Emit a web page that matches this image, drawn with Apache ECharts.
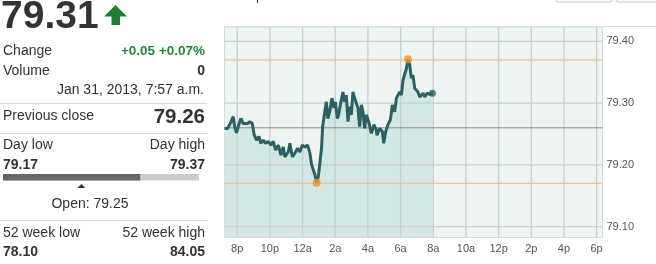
<!DOCTYPE html>
<html><head><meta charset="utf-8">
<script src="https://cdn.jsdelivr.net/npm/echarts@6/dist/echarts.min.js"></script>
<style>html,body{margin:0;padding:0;background:#fff}#c{width:656px;height:264px}</style>
</head><body><div id="c"></div>
<script>
// ---- data ----
// time in hours after 8 p.m. (Jan 30), price
const hoursFrom8pm = [-0.78,-0.594,-0.41,-0.245,-0.147,-0.043,0.061,0.221,0.368,0.466,0.631,0.772,0.919,1.042,1.183,1.324,1.446,1.593,1.734,1.900,2.059,2.206,2.347,2.512,2.672,2.819,2.917,3.125,3.223,3.370,3.529,3.695,3.836,3.983,4.142,4.308,4.449,4.553,4.657,4.755,4.859,4.963,5.061,5.165,5.227,5.306,5.453,5.551,5.656,5.797,5.919,6.005,6.127,6.207,6.330,6.471,6.575,6.679,6.777,6.881,6.985,7.083,7.188,7.292,7.390,7.494,7.598,7.696,7.800,7.904,8.045,8.211,8.370,8.517,8.554,8.719,8.885,8.965,9.087,9.228,9.375,9.498,9.638,9.743,9.945,10.049,10.147,10.251,10.355,10.453,10.558,10.662,10.760,10.864,11.066,11.170,11.275,11.373,11.477,11.618,11.783,11.949];
const prices = [79.259,79.259,79.268,79.278,79.260,79.252,79.262,79.275,79.267,79.270,79.267,79.270,79.267,79.248,79.240,79.246,79.235,79.240,79.235,79.238,79.232,79.238,79.224,79.232,79.216,79.229,79.213,79.221,79.235,79.213,79.219,79.227,79.221,79.232,79.229,79.232,79.219,79.200,79.192,79.184,79.171,79.181,79.203,79.229,79.262,79.265,79.302,79.275,79.286,79.308,79.292,79.302,79.275,79.281,79.300,79.318,79.302,79.313,79.270,79.294,79.281,79.318,79.308,79.310,79.292,79.262,79.297,79.286,79.259,79.281,79.270,79.251,79.265,79.256,79.248,79.259,79.254,79.235,79.254,79.265,79.273,79.297,79.286,79.308,79.318,79.313,79.337,79.335,79.356,79.371,79.362,79.340,79.345,79.324,79.318,79.310,79.308,79.316,79.310,79.316,79.314,79.316];
const xTickHours = [0,2,4,6,8,10,12,14,16,18,20,22];
const xTickLabels = ['8p','10p','12a','2a','4a','6a','8a','10a','12p','2p','4p','6p'];
const yTicks = [79.10,79.20,79.30,79.40];
const prevClose = 79.26, dayLow = 79.17, dayHigh = 79.37, openPrice = 79.25;
const lastPrice = '79.31', changeText = '+0.05 +0.07%', volumeText = '0';
const dateText = 'Jan 31, 2013, 7:57 a.m.';
const week52Low = '78.10', week52High = '84.05';

// ---- chart ----
const X_MIN = -0.78, X_MAX = 22.36, Y_MIN = 79.0825, Y_MAX = 79.4231;
const lineData = hoursFrom8pm.map((h,i)=>[h,prices[i]]);
const hiIdx = prices.indexOf(Math.max(...prices));
const loIdx = prices.indexOf(Math.min(...prices));
const lastIdx = prices.length-1;

const chart = echarts.init(document.getElementById('c'), null, {renderer:'canvas'});
const F = '"Liberation Sans", Arial, sans-serif';
const txt = (x,y,t,o)=>Object.assign({type:'text',x:x,y:y,silent:true,style:Object.assign({text:t,fill:'#333',font:'14px '+F,verticalAlign:'middle',align:'left'},o||{})});
const hline = (y,x1,x2,c)=>({type:'line',silent:true,shape:{x1:x1,y1:y,x2:x2,y2:y},style:{stroke:c||'#dcdcdc',lineWidth:1}});

const barX0 = 3, barW = 196;
const curFrac = (parseFloat(lastPrice)-dayLow)/(dayHigh-dayLow);
const openFrac = (openPrice-dayLow)/(dayHigh-dayLow);
const xLabelMap = {};
xTickHours.forEach((h,i)=>xLabelMap[h]=xTickLabels[i]);
const gridColor = '#c6d1cd';

const refLine = (data,color,z,w)=>({type:'line',data:data,showSymbol:false,symbol:'none',silent:true,z:z,
  lineStyle:{color:color,width:w||1.3},emphasis:{disabled:true}});
const gridSeries = [].concat(
  xTickHours.map(h=>refLine([[h,Y_MIN],[h,Y_MAX]],gridColor,2)),
  yTicks.map(v=>refLine([[X_MIN,v],[X_MAX,v]],gridColor,2)),
  [refLine([[X_MIN,prevClose],[X_MAX,prevClose]],'#8a8a8a',2,1),
   refLine([[X_MIN,dayHigh],[X_MAX,dayHigh]],'#efc497',2,1.2),
   refLine([[X_MIN,dayLow],[X_MAX,dayLow]],'#efc497',2,1.2)]);

chart.setOption({
  animation:false,
  grid:{left:224.5,top:27,width:378,height:210.5,show:true,backgroundColor:'#eef4f1',borderColor:'#d2dcd8',borderWidth:1},
  xAxis:{type:'value',min:X_MIN,max:X_MAX,
    axisLine:{show:false},axisTick:{show:false,customValues:xTickHours},
    axisLabel:{customValues:xTickHours,color:'#555',fontSize:11,fontFamily:F,margin:6,formatter:v=>xLabelMap[Math.round(v)]||''},
    splitLine:{show:false}},
  yAxis:{type:'value',position:'right',min:Y_MIN,max:Y_MAX,
    axisLine:{show:false},axisTick:{show:false,customValues:yTicks},
    axisLabel:{customValues:yTicks,color:'#555',fontSize:11,fontFamily:F,margin:4,formatter:v=>v.toFixed(2)},
    splitLine:{show:false}},
  series:[
    {type:'line',data:lineData,showSymbol:false,symbol:'none',z:1,silent:true,
     lineStyle:{width:0,opacity:0},
     areaStyle:{color:'#d3e7e4',opacity:1}}
  ].concat(gridSeries, [
    {type:'line',data:lineData,showSymbol:false,symbol:'none',z:3,silent:true,
     lineStyle:{color:'#2b6164',width:3}},
    {type:'scatter',symbolSize:8,z:5,silent:true,
     data:[
       {value:lineData[hiIdx],itemStyle:{color:'#f0942e'}},
       {value:lineData[loIdx],itemStyle:{color:'#f0942e'}},
       {value:lineData[lastIdx],itemStyle:{color:'#2b6164'},symbolSize:7}
     ]}
  ]),
  graphic:[
    {type:'text',x:256,y:-10,silent:true,style:{text:'p',fill:'#444',font:'13px '+F}},
    {type:'rect',silent:true,shape:{x:556,y:-8,width:56,height:10,r:2},style:{fill:'#fff',stroke:'#ccc',lineWidth:1}},
    {type:'rect',silent:true,shape:{x:616,y:-8,width:44,height:10,r:2},style:{fill:'#fff',stroke:'#ccc',lineWidth:1}},
    hline(26.5,224,656,'#dedede'),
    txt(1,17.5,lastPrice,{font:'bold 39px '+F,fill:'#333'}),
    {type:'polygon',silent:true,shape:{points:[[104,16.5],[115.5,5],[127,16.5],[120,16.5],[120,25],[111.5,25],[111.5,16.5]]},style:{fill:'#1e7e34'}},
    txt(3,51,'Change'),
    txt(205,51,changeText,{align:'right',font:'bold 13.5px '+F,fill:'#228b3a'}),
    txt(3,71,'Volume'),
    txt(205,71,volumeText,{align:'right',font:'bold 14px '+F}),
    txt(204,90,dateText,{align:'right'}),
    hline(103.5,0,207),
    txt(3,116,'Previous close'),
    txt(205,117,prevClose.toFixed(2),{align:'right',font:'bold 20.5px '+F}),
    hline(133.5,0,207),
    txt(3,145,'Day low'),
    txt(205,145,'Day high',{align:'right'}),
    txt(3,165,dayLow.toFixed(2),{font:'bold 14px '+F}),
    txt(205,165,dayHigh.toFixed(2),{align:'right',font:'bold 14px '+F}),
    {type:'rect',silent:true,shape:{x:barX0,y:174,width:barW,height:6.5},style:{fill:'#cccccc'}},
    {type:'rect',silent:true,shape:{x:barX0,y:174,width:barW*curFrac,height:6.5},style:{fill:'#666666'}},
    {type:'polygon',silent:true,shape:{points:[[barX0+barW*openFrac-4,188],[barX0+barW*openFrac,184],[barX0+barW*openFrac+4,188]]},style:{fill:'#333'}},
    txt(90,204,'Open: '+openPrice.toFixed(2),{align:'center'}),
    hline(220.5,0,207),
    txt(3,233,'52 week low'),
    txt(205,233,'52 week high',{align:'right'}),
    txt(3,252,week52Low,{font:'bold 14px '+F}),
    txt(205,252,week52High,{align:'right',font:'bold 14px '+F})
  ]
});
</script></body></html>
